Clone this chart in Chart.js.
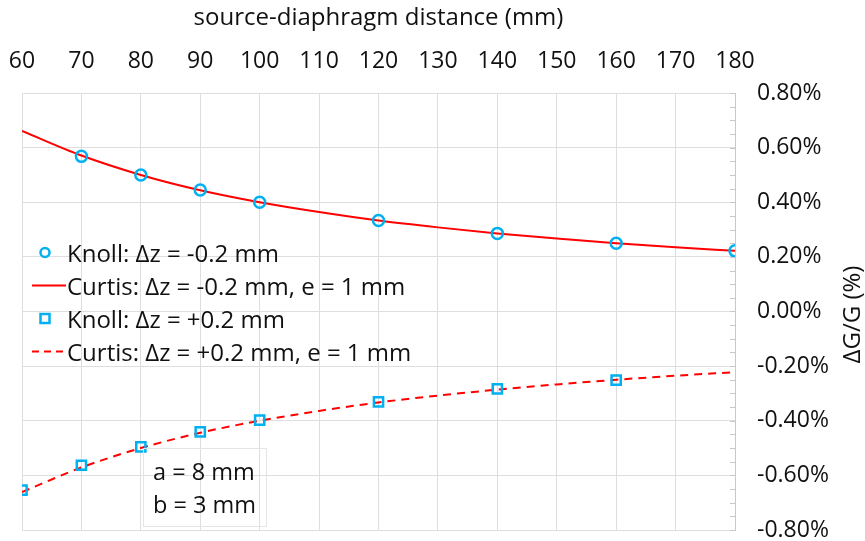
<!DOCTYPE html>
<html>
<head>
<meta charset="utf-8">
<script src="https://cdn.jsdelivr.net/npm/chart.js@4/dist/chart.umd.min.js"></script>
<style>
  html, body { margin: 0; padding: 0; background: #fff; }
  #wrap { position: relative; width: 865px; height: 541px; }
  canvas { position: absolute; left: 0; top: 0; }
  .leg { position: absolute; left: 30px; top: 236px; font-family: "Open Sans", sans-serif; font-size: 24px; color: #111; }
  .leg .row { height: 33px; line-height: 33px; display: flex; align-items: center; white-space: nowrap; }
  .leg .sym { width: 37px; height: 33px; position: relative; }
  .note { position: absolute; left: 143px; top: 448px; width: 124px; height: 79px; border: 1px solid #e4e4e4; box-sizing: border-box;
          font-family: "Open Sans", sans-serif; font-size: 23.5px; color: #111; padding: 6px 0 0 9px; line-height: 33px; white-space: nowrap; }
</style>
</head>
<body>
<div id="wrap">
  <canvas id="c" width="865" height="541"></canvas>
  <div class="leg" id="leg"></div>
  <div class="note">a = 8 mm<br>b = 3 mm</div>
</div>
<script>
// ---- data ----
const curveDistances = [60, 70, 80, 90, 100, 110, 120, 130, 140, 150, 160, 170, 180];
const curtisMinus = [0.661, 0.571, 0.500, 0.444, 0.400, 0.364, 0.333, 0.308, 0.286, 0.267, 0.250, 0.235, 0.222];
const curtisPlus = [-0.661, -0.571, -0.500, -0.444, -0.400, -0.364, -0.333, -0.308, -0.286, -0.267, -0.250, -0.235, -0.222];
const knollMinusX = [70, 80, 90, 100, 120, 140, 160, 180];
const knollMinus = [0.568, 0.500, 0.445, 0.400, 0.333, 0.286, 0.250, 0.222];
const knollPlusX = [60, 70, 80, 90, 100, 120, 140, 160];
const knollPlus = [-0.654, -0.563, -0.496, -0.441, -0.398, -0.331, -0.283, -0.251];
const xTicks = [60, 70, 80, 90, 100, 110, 120, 130, 140, 150, 160, 170, 180];
const yTicks = [-0.8, -0.6, -0.4, -0.2, 0, 0.2, 0.4, 0.6, 0.8];
const legendLabels = ["Knoll: \u0394z = -0.2 mm", "Curtis: \u0394z = -0.2 mm, e = 1 mm", "Knoll: \u0394z = +0.2 mm", "Curtis: \u0394z = +0.2 mm, e = 1 mm"];
const yTitle = '\u0394G/G (%)';

const BLUE = '#00B0F0', RED = '#FF0000';
const FONT = '"Open Sans", sans-serif';
const FS = 23;
const TFS = 24;

const pts = (xs, ys) => xs.map((x, i) => ({x: x, y: ys[i]}));

const extras = {
  id: 'extras',
  afterDatasetsDraw(chart) {
    const y = chart.scales.y, ctx = chart.ctx, a = chart.chartArea;
    ctx.save();
    ctx.strokeStyle = '#c8c8c8';
    ctx.lineWidth = 1;
    for (let v = -0.8; v <= 0.8001; v += 0.05) {
      const py = Math.round(y.getPixelForValue(v)) + 0.5;
      ctx.beginPath();
      ctx.moveTo(a.right - 5, py);
      ctx.lineTo(a.right, py);
      ctx.stroke();
    }
    ctx.restore();
  },
  afterDraw(chart) {
    const ctx = chart.ctx, a = chart.chartArea;
    ctx.save();
    ctx.translate(853, (a.top + a.bottom) / 2 + 3);
    ctx.rotate(-Math.PI / 2);
    ctx.font = TFS + 'px ' + FONT;
    ctx.fillStyle = '#111';
    ctx.textAlign = 'center';
    ctx.textBaseline = 'middle';
    ctx.fillText(yTitle, 0, 0);
    ctx.restore();
  }
};

const chart = new Chart(document.getElementById('c'), {
  type: 'line',
  data: {
    datasets: [
      { label: legendLabels[0], data: pts(knollMinusX, knollMinus), showLine: false,
        pointStyle: 'circle', pointRadius: 5.5, borderColor: BLUE, backgroundColor: 'transparent', pointBorderWidth: 2.5, order: 0 },
      { label: legendLabels[1], data: pts(curveDistances, curtisMinus), borderColor: RED, borderWidth: 2,
        pointRadius: 0, tension: 0.4, cubicInterpolationMode: 'monotone', fill: false, order: 1 },
      { label: legendLabels[2], data: pts(knollPlusX, knollPlus), showLine: false,
        pointStyle: 'rect', pointRadius: 6.5, borderColor: BLUE, backgroundColor: 'transparent', pointBorderWidth: 2.5, order: 0 },
      { label: legendLabels[3], data: pts(curveDistances, curtisPlus), borderColor: RED, borderWidth: 2, borderDash: [8, 6],
        pointRadius: 0, tension: 0.4, cubicInterpolationMode: 'monotone', fill: false, order: 1 }
    ]
  },
  options: {
    responsive: false,
    animation: false,
    layout: { padding: { left: 22, right: 0, top: 2, bottom: 11 } },
    plugins: { legend: { display: false }, tooltip: { enabled: false } },
    scales: {
      x: {
        type: 'linear', position: 'top', min: 60, max: 180,
        afterBuildTicks: s => { s.ticks = xTicks.map(v => ({value: v})); },
        afterFit: s => { s.height = 91; s.paddingLeft = 0; s.paddingRight = 0; },
        ticks: { font: { family: FONT, size: FS }, color: '#111', padding: 18, maxRotation: 0 },
        grid: { color: '#dedede', drawTicks: false },
        border: { display: false },
        title: { display: true, text: 'source-diaphragm distance (mm)', font: { family: FONT, size: TFS }, color: '#111', padding: { top: 2, bottom: 0 } }
      },
      y: {
        type: 'linear', position: 'right', min: -0.8, max: 0.8,
        afterBuildTicks: s => { s.ticks = yTicks.map(v => ({value: v})); },
        afterFit: s => { s.width = 130; s.paddingTop = 0; s.paddingBottom = 0; },
        ticks: { font: { family: FONT, size: FS }, color: '#111', padding: 22,
                 callback: v => v.toFixed(2) + '%' },
        grid: { color: '#dedede', drawTicks: false },
        border: { display: true, color: '#c8c8c8' },
        title: { display: false }
      }
    }
  },
  plugins: [extras]
});

// HTML legend (transparent, drawn over the plot)
const leg = document.getElementById('leg');
const syms = [
  '<svg width="37" height="33"><circle cx="15" cy="16.5" r="4.5" fill="none" stroke="' + BLUE + '" stroke-width="2.5"/></svg>',
  '<svg width="37" height="33"><line x1="2" y1="16.5" x2="36" y2="16.5" stroke="' + RED + '" stroke-width="2"/></svg>',
  '<svg width="37" height="33"><rect x="10.5" y="12" width="9" height="9" fill="none" stroke="' + BLUE + '" stroke-width="2.5"/></svg>',
  '<svg width="37" height="33"><line x1="2" y1="16.5" x2="36" y2="16.5" stroke="' + RED + '" stroke-width="2" stroke-dasharray="7,5"/></svg>'
];
legendLabels.forEach((t, i) => {
  const r = document.createElement('div');
  r.className = 'row';
  r.innerHTML = '<span class="sym">' + syms[i] + '</span><span>' + t + '</span>';
  leg.appendChild(r);
});
</script>
</body>
</html>
